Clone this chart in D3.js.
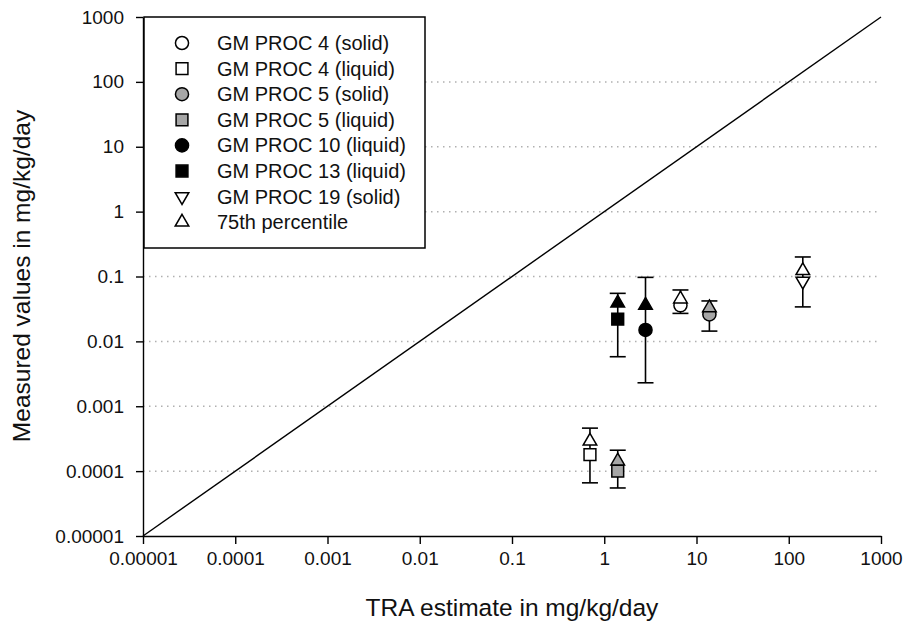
<!DOCTYPE html>
<html>
<head>
<meta charset="utf-8">
<script src="https://cdn.jsdelivr.net/npm/d3@7"></script>
<style>
    body { margin: 0; background: #fff; }
    svg { font-family: "Liberation Sans", Arial, sans-serif; }
</style>
</head>
<body>
<div id="graph"></div>
<script>
// series shown in the legend (order of the legend)
var series = [ "GM PROC 4 (solid)", "GM PROC 4 (liquid)", "GM PROC 5 (solid)", "GM PROC 5 (liquid)",
    "GM PROC 10 (liquid)", "GM PROC 13 (liquid)", "GM PROC 19 (solid)" ];
var traEstimate = [ 6.7, 0.70, 13.8, 1.40, 2.8, 1.40, 142 ];
var measured    = [ 0.036, 0.00018, 0.026, 0.0001, 0.015, 0.022, 0.085 ];
var lower       = [ 0.027, 0.000066, 0.0144, 0.000055, 0.0023, 0.0058, 0.034 ];
var upper       = [ 0.062, 0.00046, 0.042, 0.00021, 0.097, 0.055, 0.20 ];
var p75         = [ 0.045, 0.00029, 0.033, 0.000143, 0.036, 0.039, 0.123 ];
var tickLabels  = [ "0.00001", "0.0001", "0.001", "0.01", "0.1", "1", "10", "100", "1000" ];
var tickValues  = [ 1e-5, 1e-4, 1e-3, 1e-2, 1e-1, 1, 10, 100, 1000 ];

var shapes = [ "circle", "square", "circle", "square", "circle", "square", "down" ];
var fills  = [ "#fff", "#fff", "#a6a6a6", "#a6a6a6", "#000", "#000", "#fff" ];

var width = 909;
var height = 622;

var x = d3.scaleLog().domain( [ 1e-5, 1000 ] ).range( [ 143, 881 ] );
var y = d3.scaleLog().domain( [ 1e-5, 1000 ] ).range( [ 536, 17 ] );

var vis = d3.select( "#graph" ).append( "svg" )
    .attr( "width", width )
    .attr( "height", height );

function symbolPath( shape ) {
    if ( shape === "circle" ) return d3.symbol( d3.symbolCircle, 135 )();
    if ( shape === "square" ) return d3.symbol( d3.symbolSquare, 140 )();
    return d3.symbol( d3.symbolTriangle, 80 )();
}

// dotted grid lines at every decade
vis.append( "g" ).selectAll( "line" )
    .data( tickValues.slice( 1, -1 ) )
    .enter().append( "line" )
    .attr( "x1", 143 )
    .attr( "x2", 881 )
    .attr( "y1", function( d ) { return y( d ); })
    .attr( "y2", function( d ) { return y( d ); })
    .attr( "stroke", "#b0b0b0" )
    .attr( "stroke-width", 1.5 )
    .attr( "stroke-dasharray", "1.5,4.5" );

// 1:1 line
vis.append( "line" )
    .attr( "x1", x( 1e-5 ) ).attr( "y1", y( 1e-5 ) )
    .attr( "x2", x( 1000 ) ).attr( "y2", y( 1000 ) )
    .attr( "stroke", "#000" )
    .attr( "stroke-width", 1.4 );

// axes
var xAxis = d3.axisBottom( x ).tickValues( tickValues )
    .tickFormat( function( d, i ) { return tickLabels[ i ]; })
    .tickSizeInner( 8 ).tickSizeOuter( 0 ).tickPadding( 8 );
var yAxis = d3.axisLeft( y ).tickValues( tickValues )
    .tickFormat( function( d, i ) { return tickLabels[ i ]; })
    .tickSizeInner( 7 ).tickSizeOuter( 0 ).tickPadding( 12 );

var gx = vis.append( "g" ).attr( "transform", "translate(0,536)" ).call( xAxis );
var gy = vis.append( "g" ).attr( "transform", "translate(143,0)" ).call( yAxis );
[ gx, gy ].forEach( function( g ) {
    g.selectAll( "path, line" ).attr( "stroke", "#000" ).attr( "stroke-width", 1.4 );
    g.selectAll( "text" ).attr( "fill", "#111" )
        .style( "font-size", "19px" )
        .style( "font-family", "'Liberation Sans', Arial, sans-serif" );
});

// axis titles
vis.append( "text" )
    .attr( "x", 512 ).attr( "y", 616 )
    .attr( "text-anchor", "middle" )
    .style( "font-size", "24.5px" ).attr( "fill", "#111" )
    .text( "TRA estimate in mg/kg/day" );
vis.append( "text" )
    .attr( "transform", "translate(30,276) rotate(-90)" )
    .attr( "text-anchor", "middle" )
    .style( "font-size", "24.5px" ).attr( "fill", "#111" )
    .text( "Measured values in mg/kg/day" );

// error bars
var idx = d3.range( series.length );
var bars = vis.append( "g" ).attr( "stroke", "#000" ).attr( "stroke-width", 1.6 );
idx.forEach( function( i ) {
    var cx = x( traEstimate[ i ] );
    bars.append( "line" ).attr( "x1", cx ).attr( "x2", cx )
        .attr( "y1", y( upper[ i ] ) ).attr( "y2", y( lower[ i ] ) );
    [ upper[ i ], lower[ i ] ].forEach( function( v ) {
        bars.append( "line" ).attr( "x1", cx - 8 ).attr( "x2", cx + 8 )
            .attr( "y1", y( v ) ).attr( "y2", y( v ) );
    });
});

// geometric mean markers
vis.append( "g" ).selectAll( "path" )
    .data( idx )
    .enter().append( "path" )
    .attr( "d", function( i ) { return symbolPath( shapes[ i ] ); })
    .attr( "transform", function( i ) {
        return "translate(" + x( traEstimate[ i ] ) + "," + y( measured[ i ] ) + ")" +
            ( shapes[ i ] === "down" ? " rotate(180)" : "" );
    })
    .attr( "fill", function( i ) { return fills[ i ]; })
    .attr( "stroke", "#000" )
    .attr( "stroke-width", 1.5 );

// 75th percentile triangles
vis.append( "g" ).selectAll( "path" )
    .data( idx )
    .enter().append( "path" )
    .attr( "d", symbolPath( "up" ) )
    .attr( "transform", function( i ) {
        return "translate(" + x( traEstimate[ i ] ) + "," + y( p75[ i ] ) + ")";
    })
    .attr( "fill", function( i ) { return fills[ i ]; })
    .attr( "stroke", "#000" )
    .attr( "stroke-width", 1.5 );

// legend
var legend = vis.append( "g" );
legend.append( "rect" )
    .attr( "x", 144 ).attr( "y", 17 )
    .attr( "width", 281 ).attr( "height", 231 )
    .attr( "fill", "#fff" )
    .attr( "stroke", "#000" )
    .attr( "stroke-width", 1.5 );

var legendLabels = series.concat( [ "75th percentile" ] );
var legendShapes = shapes.concat( [ "up" ] );
var legendFills = fills.concat( [ "#fff" ] );

var rows = legend.selectAll( "g.row" )
    .data( legendLabels )
    .enter().append( "g" )
    .attr( "class", "row" )
    .attr( "transform", function( d, i ) { return "translate(182," + ( 43 + i * 25.6 ) + ")"; });
rows.append( "path" )
    .attr( "d", function( d, i ) { return symbolPath( legendShapes[ i ] ); })
    .attr( "transform", function( d, i ) { return legendShapes[ i ] === "down" ? "rotate(180)" : null; })
    .attr( "fill", function( d, i ) { return legendFills[ i ]; })
    .attr( "stroke", "#000" )
    .attr( "stroke-width", 1.5 );
rows.append( "text" )
    .attr( "x", 35 ).attr( "y", 7 )
    .style( "font-size", "20px" ).attr( "fill", "#111" )
    .text( function( d ) { return d; });
</script>
</body>
</html>
